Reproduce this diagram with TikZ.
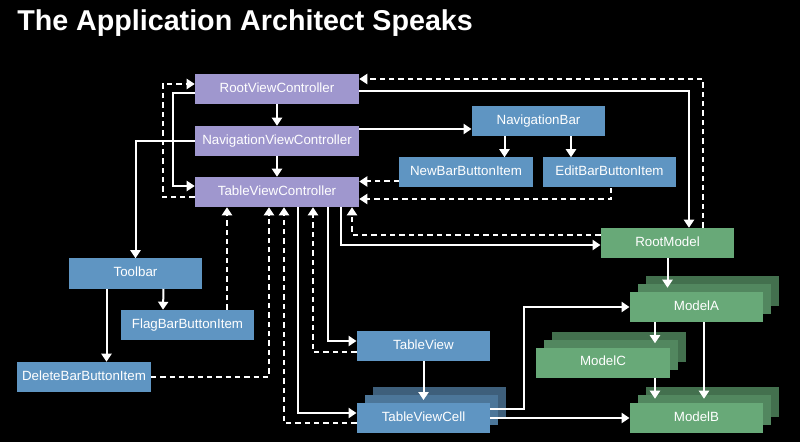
\documentclass[tikz,border=0pt]{standalone}
\usepackage{fontspec}
\setmainfont{Liberation Sans}
\usetikzlibrary{arrows.meta,calc}
\definecolor{purp}{HTML}{9F97CE}
\definecolor{blu}{HTML}{5F95C2}
\definecolor{blua}{HTML}{4C7699}
\definecolor{blub}{HTML}{3E5F7B}
\definecolor{grn}{HTML}{68A978}
\definecolor{grna}{HTML}{52875F}
\definecolor{grnb}{HTML}{43704E}
\begin{document}
\begin{tikzpicture}[x=0.75pt,y=-0.75pt,
  box/.style={draw=none, minimum height=22.5pt, minimum width=100pt, inner sep=0pt,
    text=white, text height=7.2pt, text depth=2pt, font=\fontsize{10}{12}\selectfont},
  vc/.style={box, fill=purp, minimum width=123pt},
  bl/.style={box, fill=blu},
  gr/.style={box, fill=grn},
  link/.style={draw=white, line width=1.5pt, -{Triangle[length=6pt,width=7.5pt]}},
  dlink/.style={link, dash pattern=on 4pt off 3pt}]
\fill[black] (0,0) rectangle (800,442);
\useasboundingbox (0,0) rectangle (800,442);

\node[anchor=base west, text=white, inner sep=0pt, font=\fontsize{21.5}{24}\selectfont\bfseries] (title) at (17,31) {The Application Architect Speaks};

% view controllers
\node[vc] (rvc) at (277,89) {RootViewController};
\node[vc] (nvc) at (277,141) {NavigationViewController};
\node[vc] (tvc) at (277,192) {TableViewController};

% blue nodes
\node[bl] (navbar) at (538.5,121) {NavigationBar};
\node[bl] (newbbi) at (466,172.5) {NewBarButtonItem};
\node[bl] (editbbi) at (609.5,172.5) {EditBarButtonItem};
\node[bl] (toolbar) at (135.5,273.5) {Toolbar};
\node[bl] (flag) at (187.5,325) {FlagBarButtonItem};
\node[bl] (delete) at (84,377) {DeleteBarButtonItem};
\node[bl] (tableview) at (423.5,346) {TableView};

\coordinate (cTC) at (423.5,418);
\node[box, fill=blub] (tvcellb) at ($(cTC)+(16,-16)$) {};
\node[box, fill=blua] (tvcella) at ($(cTC)+(8,-8)$) {};
\node[bl] (tvcell) at (cTC) {TableViewCell};

% green nodes
\node[gr] (rootmodel) at (667.5,243) {RootModel};

\coordinate (cA) at (696.5,307);
\node[box, fill=grnb] (modelAb) at ($(cA)+(16,-16)$) {};
\node[box, fill=grna] (modelAa) at ($(cA)+(8,-8)$) {};
\node[gr] (modelA) at (cA) {ModelA};

\coordinate (cC) at (603,362.5);
\node[box, fill=grnb] (modelCb) at ($(cC)+(16,-16)$) {};
\node[box, fill=grna] (modelCa) at ($(cC)+(8,-8)$) {};
\node[gr] (modelC) at (cC) {ModelC};

\coordinate (cB) at (696.5,418);
\node[box, fill=grnb] (modelBb) at ($(cB)+(16,-16)$) {};
\node[box, fill=grna] (modelBa) at ($(cB)+(8,-8)$) {};
\node[gr] (modelB) at (cB) {ModelB};

% connectors
\draw[link] (rvc.south) -- (nvc.north);
\draw[link] (nvc.south) -- (tvc.north);
\draw[link] ($(rvc.west)+(0,4)$) -- ++(-22,0) |- ($(tvc.west)+(0,-6)$);
\draw[dlink] ($(tvc.west)+(0,5)$) -- ++(-32,0) |- ($(rvc.west)+(0,-5)$);
\draw[link] (nvc.west) -| (toolbar.north);
\draw[link] ($(nvc.east)+(0,-12)$) -- ($(navbar.west)+(0,8)$);
\draw[link] ($(navbar.south)+(-34,0)$) -- ($(newbbi.north)+(38.5,0)$);
\draw[link] ($(navbar.south)+(32.5,0)$) -- ($(editbbi.north)+(-38.5,0)$);
\draw[dlink] ($(newbbi.west)+(0,9)$) -- ($(tvc.east)+(0,-10.5)$);
\draw[dlink] ($(editbbi.south)+(1.5,0)$) |- ($(tvc.east)+(0,7)$);
\draw[link] ($(rvc.east)+(0,2)$) -| ($(rootmodel.north)+(21.5,0)$);
\draw[dlink] ($(rootmodel.north)+(35.5,0)$) |- ($(rvc.east)+(0,-10)$);
\draw[dlink] ($(rootmodel.west)+(0,-8)$) -| ($(tvc.south)+(75,0)$);
\draw[link] ($(tvc.south)+(64,0)$) |- ($(rootmodel.west)+(0,2)$);
\draw[link] ($(toolbar.south)+(-29,0)$) -- ($(delete.north)+(22.5,0)$);
\draw[link] ($(toolbar.south)+(28,0)$) -- ($(flag.north)+(-24.5,0)$);
\draw[dlink] ($(flag.north)+(39.5,0)$) -- ($(tvc.south)+(-50,0)$);
\draw[dlink] (delete.east) -| ($(tvc.south)+(-8,0)$);
\draw[dlink] ($(tvcell.west)+(0,5)$) -| ($(tvc.south)+(7,0)$);
\draw[link] ($(tvc.south)+(21,0)$) |- ($(tvcell.west)+(0,-5)$);
\draw[dlink] ($(tableview.west)+(0,6)$) -| ($(tvc.south)+(36,0)$);
\draw[link] ($(tvc.south)+(51,0)$) |- ($(tableview.west)+(0,-5)$);
\draw[link, shorten >=2pt] (tableview.south) -- (tvcell.north);
\draw[link] ($(tvcell.east)+(0,-9)$) -- ++(34,0) |- (modelA.west);
\draw[link] (tvcell.east) -- (modelB.west);
\draw[link, shorten >=3pt] ($(modelA.south)+(-41.5,0)$) -- ($(modelC.north)+(52,0)$);
\draw[link, shorten >=3pt] ($(modelC.south)+(52,0)$) -- ($(modelB.north)+(-41.5,0)$);
\draw[link, shorten >=3pt] ($(modelA.south)+(7.5,0)$) -- ($(modelB.north)+(7.5,0)$);
\draw[link, shorten >=3pt] (rootmodel.south) -- ($(modelA.north)+(-29,0)$);
\end{tikzpicture}
\end{document}
